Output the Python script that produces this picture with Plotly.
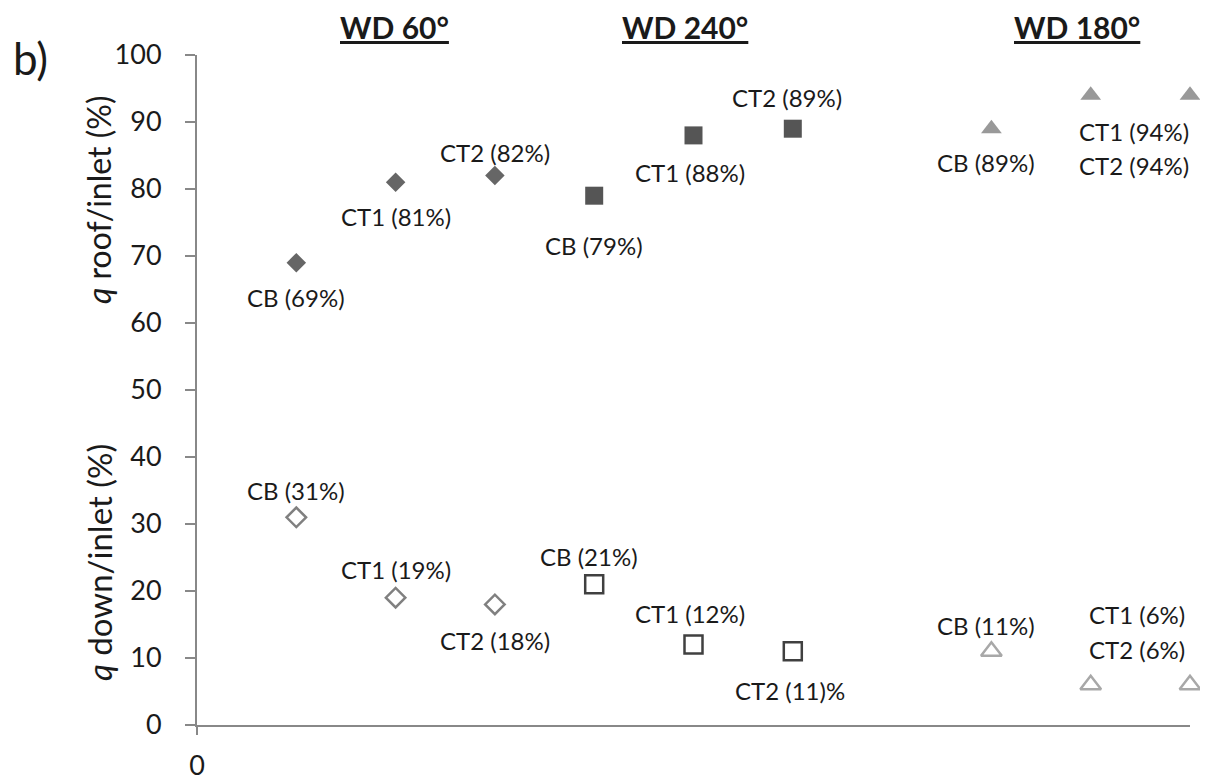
import plotly.graph_objects as go

cases = ["CB", "CT1", "CT2"]
groups = ["WD 60°", "WD 240°", "WD 180°"]
group_x = [[1, 2, 3], [4, 5, 6], [8, 9, 10]]
roof_vals = [[69, 81, 82], [79, 88, 89], [89, 94, 94]]
down_vals = [[31, 19, 18], [21, 12, 11], [11, 6, 6]]
roof_labels = [["CB (69%)", "CT1 (81%)", "CT2 (82%)"],
               ["CB (79%)", "CT1 (88%)", "CT2 (89%)"],
               ["CB (89%)", "CT1 (94%)", "CT2 (94%)"]]
down_labels = [["CB (31%)", "CT1 (19%)", "CT2 (18%)"],
               ["CB (21%)", "CT1 (12%)", "CT2 (11)%"],
               ["CB (11%)", "CT1 (6%)", "CT2 (6%)"]]
y_ticks = [0, 10, 20, 30, 40, 50, 60, 70, 80, 90, 100]

FONT = "Lato"
TXT = "#1a1a1a"
roof_style = [dict(symbol="diamond", size=15, color="#666666"),
              dict(symbol="square", size=18, color="#555555"),
              dict(symbol="triangle-up", size=18, color="#999999")]
down_style = [dict(symbol="diamond-open", size=15, color="#808080", line=dict(width=2.5, color="#808080")),
              dict(symbol="square-open", size=18, color="#404040", line=dict(width=2.5, color="#404040")),
              dict(symbol="triangle-up-open", size=18, color="#a8a8a8", line=dict(width=2.5, color="#a8a8a8"))]

fig = go.Figure()
for g in range(3):
    fig.add_trace(go.Scatter(x=group_x[g], y=roof_vals[g], mode="markers", cliponaxis=False,
                             marker=roof_style[g], showlegend=False, hoverinfo="skip"))
    fig.add_trace(go.Scatter(x=group_x[g], y=down_vals[g], mode="markers", cliponaxis=False,
                             marker=down_style[g], showlegend=False, hoverinfo="skip"))

# label offsets (pixels): (xshift, yshift)
roof_off = [[(0, -35), (0, -34), (0, 23)],
            [(0, -50), (-4, -37), (-6, 31)],
            [(-5, -34), (43, -36), (43, -70)]]
down_off = [[(0, 27), (0, 28), (0, -36)],
            [(-5, 28), (-4, 31), (-3, -39)],
            [(-5, 26), (46, 70), (46, 35)]]

ann = []
for g in range(3):
    for i in range(3):
        ax = group_x[g][i] if not (g == 2 and i == 2) else group_x[g][1]
        for vals, labs, offs in ((roof_vals, roof_labels, roof_off), (down_vals, down_labels, down_off)):
            ann.append(dict(x=ax, y=vals[g][i], xref="x", yref="y", text=labs[g][i],
                            showarrow=False, xshift=offs[g][i][0], yshift=offs[g][i][1],
                            font=dict(family=FONT, size=24, color=TXT)))

# target plot area in screenshot pixels: x 197..1190, y 55..725
def px(x):
    return (x - 197) / 993

def py(y):
    return (725 - y) / 670

title_pos = [(394, 27), (685, 27), (1077, 27)]
for g in range(3):
    ann.append(dict(x=px(title_pos[g][0]), y=py(title_pos[g][1]), xref="paper", yref="paper",
                    text="<b><span style='text-decoration:underline'>" + groups[g] + "</span></b>",
                    showarrow=False, font=dict(family=FONT, size=30, color=TXT)))

ann.append(dict(x=px(30), y=py(58), xref="paper", yref="paper", text="b)",
                showarrow=False, font=dict(family=FONT, size=44, color=TXT)))
ann.append(dict(x=px(99), y=py(200), xref="paper", yref="paper", text="<i>q</i> roof/inlet (%)",
                showarrow=False, textangle=-90, font=dict(family=FONT, size=32, color=TXT)))
ann.append(dict(x=px(99), y=py(563), xref="paper", yref="paper", text="<i>q</i> down/inlet (%)",
                showarrow=False, textangle=-90, font=dict(family=FONT, size=33, color=TXT)))
for a in ann:
    if a.get("xref") == "paper":
        a["xanchor"] = "center"
        a["yanchor"] = "middle"

fig.update_layout(
    width=1208, height=781,
    margin=dict(l=189, r=26, t=47, b=64, autoexpand=False),
    paper_bgcolor="white", plot_bgcolor="white",
    annotations=ann,
    xaxis=dict(range=[0, 10], showgrid=False, zeroline=False, showline=True, linecolor="#888888",
               linewidth=2, tickvals=[0], ticktext=["0"], ticks="outside", ticklen=8, tickcolor="#888888",
               tickwidth=2, ticklabelstandoff=8, automargin=False,
               tickfont=dict(family=FONT, size=27, color=TXT)),
    yaxis=dict(range=[0, 100], showgrid=False, zeroline=False, showline=True, linecolor="#888888",
               linewidth=2, tickvals=y_ticks, ticks="outside", ticklen=10, tickcolor="#888888",
               tickwidth=2, ticklabelstandoff=18, automargin=False,
               tickfont=dict(family=FONT, size=27, color=TXT)),
)

fig.write_html("out.html")
